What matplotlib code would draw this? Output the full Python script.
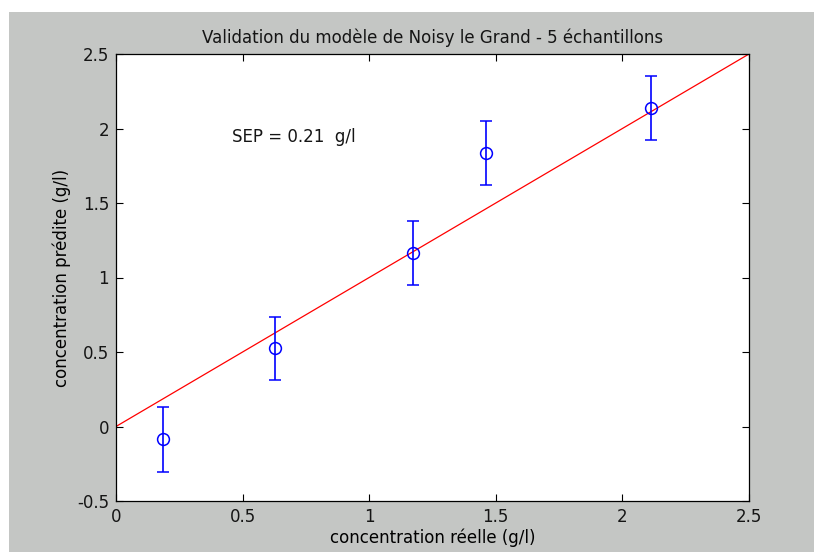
import matplotlib
matplotlib.use("Agg")
import matplotlib.pyplot as plt
from matplotlib.patches import Rectangle

x_reel = [0.186, 0.627, 1.173, 1.46, 2.114]
y_pred = [-0.085, 0.525, 1.165, 1.835, 2.14]
err = [0.218, 0.212, 0.215, 0.215, 0.215]
line_x = [0, 2.5]
line_y = [0, 2.5]
xticks = [0, 0.5, 1, 1.5, 2, 2.5]
yticks = [-0.5, 0, 0.5, 1, 1.5, 2, 2.5]

plt.rcParams['font.family'] = ['DejaVu Sans']
plt.rcParams['text.color'] = '#151515'
W, H = 814, 552
FS = 12
fig = plt.figure(figsize=(W/100, H/100), dpi=100, facecolor='white')
fig.patches.append(Rectangle((9/W, 0), 1 - 9/W, 1 - 12/H, transform=fig.transFigure,
                             facecolor='#c4c6c4', edgecolor='none', zorder=-10))
ax = fig.add_axes([116/W, (H-501)/H, (749-116)/W, (501-54)/H])
ax.set_zorder(1)
ax.set_facecolor('white')
ax.plot(line_x, line_y, color='red', lw=0.9)
ax.errorbar(x_reel, y_pred, yerr=err, fmt='o', mfc='none', mec='blue', color='blue',
            ms=8.5, mew=1.1, elinewidth=1.2, capsize=4, capthick=1.2)
ax.set_xlim(0, 2.5)
ax.set_ylim(-0.5, 2.5)
ax.set_xticks(xticks)
ax.set_xticklabels(['0', '0.5', '1', '1.5', '2', '2.5'])
ax.set_yticks(yticks)
ax.set_yticklabels(['-0.5', '0', '0.5', '1', '1.5', '2', '2.5'])
ax.tick_params(direction='in', length=5, width=0.8, top=True, right=True,
               labelsize=FS, labelcolor='#151515')
ax.tick_params(axis='x', pad=5)
ax.tick_params(axis='y', pad=5)
for s in ax.spines.values():
    s.set_linewidth(0.9)
ax.set_title('Validation du modèle de Noisy le Grand - 5 échantillons', fontsize=FS, pad=8)
ax.set_xlabel('concentration réelle (g/l)', fontsize=FS, labelpad=2)
ax.set_ylabel('concentration prédite (g/l)', fontsize=FS, labelpad=4)
ax.text(0.458, 1.94, 'SEP = 0.21  g/l', fontsize=FS, va='center', ha='left')
fig.savefig('out.png', dpi=100, facecolor=fig.get_facecolor())
